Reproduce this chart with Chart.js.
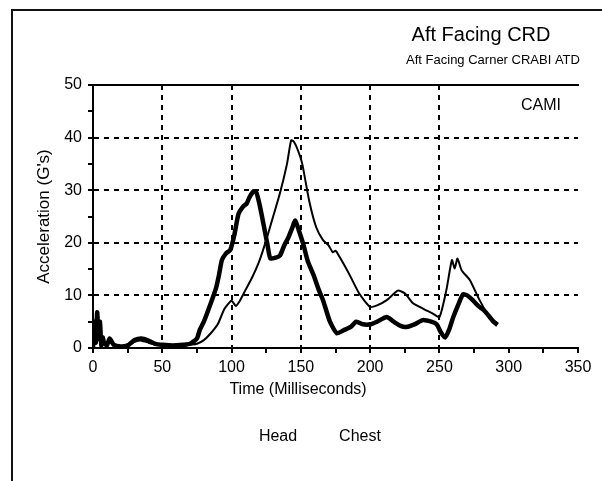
<!DOCTYPE html>
<html>
<head>
<meta charset="utf-8">
<script src="https://cdn.jsdelivr.net/npm/chart.js@4.4.1/dist/chart.umd.min.js"></script>
<style>
  html, body { margin: 0; padding: 0; background: #fff; }
  #wrap { position: relative; width: 602px; height: 481px; overflow: hidden; }
  #frame { position: absolute; left: 11px; top: 9px; right: -10px; bottom: -10px;
           border-top: 2px solid #111; border-left: 2px solid #111; }
  canvas { position: absolute; left: 0; top: 0; }
</style>
</head>
<body>
<div id="wrap">
  <div id="frame"></div>
  <canvas id="crd" width="602" height="481"></canvas>
</div>
<script>
// ---- data ----
const seriesNames = ['Head', 'Chest'];

// thin trace
const headTime = [0, 1, 2, 3, 4, 5, 6, 8, 10, 12, 15, 20, 25, 30, 35, 40, 45, 50, 55, 60, 65, 70, 75, 80, 85, 90, 95, 100, 103, 106, 110, 115, 120, 125, 130, 135, 140, 143, 145, 148, 151, 156, 161, 166, 170, 173, 175, 178, 185, 192, 200, 205, 212, 220, 225, 231, 238, 245, 250, 255, 259, 261, 263, 266, 272, 279, 286, 292];
const headAccel = [0.5, 4, 1, 5.5, 1.5, 3, 0.5, 1, 0.5, 1.2, 0.5, 0.4, 0.6, 1.2, 1.4, 1.0, 0.6, 0.5, 0.4, 0.5, 0.4, 0.6, 0.8, 1.5, 2.8, 4.5, 7.5, 9.0, 8.0, 9.0, 11, 13.5, 16.5, 20.5, 25, 29.5, 35, 39.5, 39.2, 37.5, 35, 28, 23, 20.5, 19.5, 18.2, 18.5, 17.3, 14, 10.4, 7.8, 8.1, 9.1, 10.9, 10.4, 8.5, 7.5, 6.6, 5.9, 11, 16.7, 15.1, 17, 14.8, 12.9, 9.1, 5.9, 4.7];

// thick trace
const chestTime = [0, 1, 2, 3, 4, 5, 6, 7, 8, 10, 12, 15, 20, 25, 30, 35, 40, 45, 50, 55, 60, 65, 70, 75, 77, 80, 84, 87, 89, 91, 93, 96, 99, 102, 105, 108, 111, 113, 116, 118, 120, 123, 126, 128, 132, 135, 138, 141, 144, 146, 149, 152, 155, 159, 163, 166, 171, 176, 181, 186, 190, 195, 200, 205, 212, 217, 222, 226, 232, 238, 244, 248, 251, 254, 257, 260, 264, 267, 270, 274, 278, 282, 286, 289, 292];
const chestAccel = [0, 5, 1, 6.8, 2, 5, 0.5, 2, 1, 0.5, 1.8, 0.6, 0.3, 0.5, 1.5, 1.8, 1.4, 0.8, 0.6, 0.5, 0.5, 0.6, 0.8, 1.8, 3.4, 5, 7.8, 10, 11.6, 14, 16.7, 18, 18.6, 21.5, 25.5, 26.8, 27.5, 28.7, 29.8, 29.5, 27.5, 23.6, 19.5, 17, 17.2, 17.6, 19.5, 21, 23, 24.2, 22, 19.5, 16.5, 14, 11, 9.1, 5, 2.8, 3.4, 4, 5, 4.5, 4.5, 5, 5.9, 5, 4.2, 4, 4.5, 5.3, 5, 4.5, 3, 2, 3.5, 5.9, 8.5, 10.2, 10, 9.1, 8, 7.2, 6, 5, 4.4];

const xTicks = [0, 50, 100, 150, 200, 250, 300, 350];
const yTicks = [0, 10, 20, 30, 40, 50];
const xGridAt = [50, 100, 150, 200, 250];

const chartTitle = 'Aft Facing CRD';
const chartSubtitle = 'Aft Facing Carner CRABI ATD';
const sourceTag = 'CAMI';
const xTitle = 'Time (Milliseconds)';
const yTitle = "Acceleration (G's)";

const FONT = '"Liberation Sans", Arial, Helvetica, sans-serif';
Chart.defaults.font.family = FONT;
Chart.defaults.color = '#000';

const toXY = (xs, ys) => xs.map((x, i) => ({ x, y: ys[i] }));

// titles, axis caption and the marker-less legend of the scan
const textPlugin = {
    id: 'crdText',
    afterDraw(chart) {
        const ctx = chart.ctx;
        ctx.save();
        ctx.fillStyle = '#000';
        ctx.textAlign = 'center';
        ctx.textBaseline = 'middle';
        ctx.font = `20px ${FONT}`;
        ctx.fillText(chartTitle, 481, 35);
        ctx.font = `13px ${FONT}`;
        ctx.fillText(chartSubtitle, 493, 60);
        ctx.font = `16px ${FONT}`;
        ctx.fillText(sourceTag, 541, 106);
        ctx.fillText(xTitle, 298, 390);
        const legendX = [278, 360];
        chart.data.datasets.forEach((ds, i) => ctx.fillText(ds.label, legendX[i], 437));
        ctx.restore();
    }
};

new Chart(document.getElementById('crd'), {
    type: 'line',
    data: {
        datasets: [{
            label: seriesNames[0],
            data: toXY(headTime, headAccel),
            borderColor: '#000',
            borderWidth: 2,
            pointRadius: 0,
            tension: 0.2
        }, {
            label: seriesNames[1],
            data: toXY(chestTime, chestAccel),
            borderColor: '#000',
            borderWidth: 4.5,
            pointRadius: 0,
            tension: 0.2
        }]
    },
    options: {
        responsive: false,
        animation: false,
        devicePixelRatio: 1,
        layout: { padding: { left: 0, right: 24, top: 0, bottom: 0 } },
        plugins: { legend: { display: false }, tooltip: { enabled: false } },
        scales: {
            x: {
                type: 'linear', min: 0, max: 350,
                afterFit: s => { s.height = 133; },
                ticks: {
                    stepSize: 25, autoSkip: false, maxRotation: 0, padding: 5,
                    font: { size: 16 },
                    callback: v => xTicks.includes(v) ? v : ''
                },
                grid: {
                    color: c => (c.tick && xGridAt.includes(c.tick.value)) ? '#000' : 'rgba(0,0,0,0)',
                    lineWidth: 2, tickColor: '#000', tickLength: 5, tickWidth: 2
                },
                border: { display: true, color: '#000', width: 2, dash: [5, 5] }
            },
            xTop: {
                type: 'linear', position: 'top', min: 0, max: 350,
                afterFit: s => { s.height = 85; },
                ticks: { display: false },
                grid: { display: false },
                border: { display: true, color: '#000', width: 2 }
            },
            y: {
                min: 0, max: 50,
                afterFit: s => { s.width = 93; },
                ticks: {
                    stepSize: 5, autoSkip: false, padding: 6,
                    font: { size: 16 },
                    callback: v => yTicks.includes(v) ? v : ''
                },
                grid: {
                    color: c => (c.tick && yTicks.includes(c.tick.value) && c.tick.value > 0 && c.tick.value < 50) ? '#000' : 'rgba(0,0,0,0)',
                    lineWidth: 2, tickColor: '#000', tickLength: 5, tickWidth: 2
                },
                border: { display: true, color: '#000', width: 2, dash: [5, 5] },
                title: { display: true, text: yTitle, font: { size: 17 }, padding: { top: 34 } }
            }
        }
    },
    plugins: [textPlugin]
});
</script>
</body>
</html>
